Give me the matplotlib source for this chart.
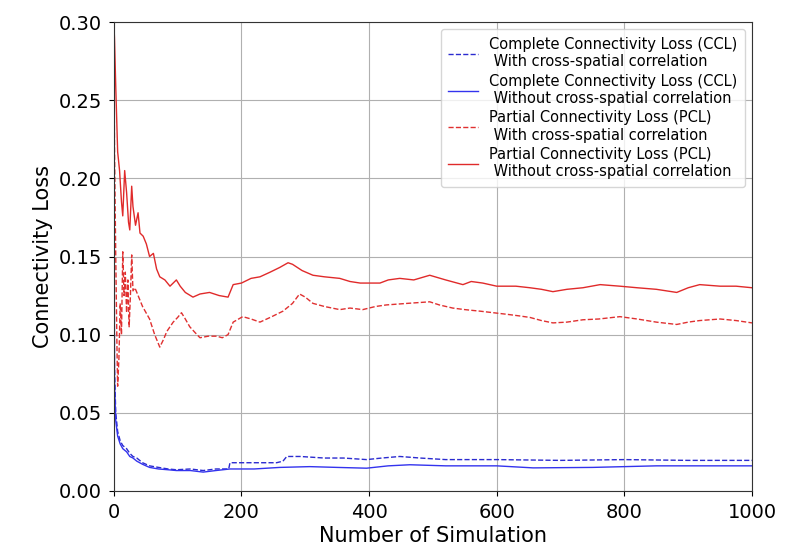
import numpy as np
import matplotlib.pyplot as plt

# values
pcl_wo_x = [0, 1, 3, 6, 9, 12, 14, 17, 20, 23, 25, 28, 30, 34, 38, 41, 46, 51, 56, 62, 67, 72, 80, 88, 93, 98, 104,
            112, 124, 135, 150, 165, 179, 187, 200, 215, 229, 245, 260, 273, 280, 295, 312, 330, 354, 370, 386, 400,
            417, 430, 448, 470, 495, 520, 547, 560, 578, 600, 630, 652, 670, 688, 710, 735, 762, 793, 820, 850, 882,
            900, 918, 950, 975, 1000]
pcl_wo_y = [0.300, 0.290, 0.259, 0.217, 0.205, 0.185, 0.176, 0.205, 0.191, 0.172, 0.167, 0.195, 0.182, 0.170, 0.178,
            0.165, 0.163, 0.158, 0.150, 0.152, 0.142, 0.137, 0.135, 0.131, 0.133, 0.135, 0.131, 0.127, 0.124, 0.126,
            0.127, 0.125, 0.124, 0.132, 0.133, 0.136, 0.137, 0.140, 0.143, 0.146, 0.145, 0.141, 0.138, 0.137, 0.136,
            0.134, 0.133, 0.133, 0.133, 0.135, 0.136, 0.135, 0.138, 0.135, 0.132, 0.134, 0.133, 0.131, 0.131, 0.130,
            0.129, 0.1275, 0.129, 0.130, 0.132, 0.131, 0.130, 0.129, 0.127, 0.130, 0.132, 0.131, 0.131, 0.130]

pcl_w_x = [0, 1, 3, 5, 6, 8, 10, 12, 14, 16, 18, 20, 22, 24, 26, 28, 30, 33, 36, 45, 56, 64, 72, 78, 83, 93, 100, 106,
           112, 119, 128, 135, 148, 161, 170, 179, 187, 202, 215, 229, 245, 265, 280, 291, 300, 312, 330, 354, 370,
           390, 410, 427, 460, 495, 510, 531, 550, 574, 595, 616, 635, 652, 670, 688, 710, 735, 760, 793, 820, 850,
           882, 900, 918, 950, 975, 1000]
pcl_w_y = [0.300, 0.220, 0.150, 0.090, 0.067, 0.085, 0.120, 0.100, 0.153, 0.125, 0.140, 0.114, 0.135, 0.105, 0.125,
           0.151, 0.128, 0.130, 0.127, 0.118, 0.110, 0.100, 0.092, 0.097, 0.102, 0.108, 0.111, 0.114, 0.110, 0.105,
           0.101, 0.098, 0.099, 0.099, 0.098, 0.100, 0.108, 0.1115, 0.110, 0.108, 0.111, 0.115, 0.120, 0.126, 0.124,
           0.120, 0.118, 0.116, 0.117, 0.116, 0.118, 0.119, 0.120, 0.121, 0.119, 0.117, 0.116, 0.115, 0.114, 0.113,
           0.112, 0.111, 0.109, 0.1075, 0.108, 0.1095, 0.110, 0.1115, 0.110, 0.108, 0.1065, 0.108, 0.109, 0.110,
           0.109, 0.1075]

ccl_w_x = [0, 1, 3, 6, 10, 14, 20, 25, 30, 36, 45, 56, 70, 85, 98, 120, 140, 160, 180, 182, 220, 255, 265, 271,
           292, 330, 360, 396, 420, 448, 480, 520, 553, 600, 700, 800, 900, 1000]
ccl_w_y = [0.280, 0.080, 0.050, 0.038, 0.032, 0.029, 0.027, 0.024, 0.022, 0.021, 0.018, 0.016, 0.015, 0.014, 0.0135,
           0.014, 0.013, 0.014, 0.014, 0.018, 0.018, 0.018, 0.019, 0.022, 0.022, 0.021, 0.021, 0.020, 0.021, 0.022,
           0.021, 0.020, 0.020, 0.020, 0.0195, 0.020, 0.0195, 0.0195]

ccl_wo_x = [0, 1, 3, 6, 10, 14, 20, 25, 30, 36, 45, 56, 70, 85, 98, 120, 140, 160, 182, 220, 260, 307, 350, 396,
            430, 464, 520, 600, 657, 750, 850, 1000]
ccl_wo_y = [0.250, 0.070, 0.045, 0.035, 0.030, 0.027, 0.025, 0.022, 0.021, 0.019, 0.017, 0.015, 0.014, 0.0135, 0.013,
            0.013, 0.012, 0.013, 0.014, 0.014, 0.015, 0.0155, 0.015, 0.0145, 0.016, 0.0167, 0.016, 0.016, 0.0147,
            0.015, 0.016, 0.016]

labels = ['Complete Connectivity Loss (CCL)\n With cross-spatial correlation',
          'Complete Connectivity Loss (CCL)\n Without cross-spatial correlation',
          'Partial Connectivity Loss (PCL)\n With cross-spatial correlation',
          'Partial Connectivity Loss (PCL)\n Without cross-spatial correlation']

fig = plt.figure(figsize=(7.85, 5.54), dpi=100)
ax = fig.add_axes([0.145, 0.114, 0.813, 0.846])

ax.plot(ccl_w_x, ccl_w_y, '--', color='#2b2bd0', lw=1.0, label=labels[0])
ax.plot(ccl_wo_x, ccl_wo_y, '-', color='#3333ee', lw=1.0, label=labels[1])
ax.plot(pcl_w_x, pcl_w_y, '--', color='#e03030', lw=1.0, label=labels[2])
ax.plot(pcl_wo_x, pcl_wo_y, '-', color='#e02a2a', lw=1.0, label=labels[3])

ax.set_xlim(0, 1000)
ax.set_ylim(0, 0.30)
ax.set_yticks(np.arange(0, 0.31, 0.05))
ax.set_yticklabels(['%.2f' % v for v in np.arange(0, 0.31, 0.05)])
ax.grid(True, color='#b0b0b0', lw=0.8)
for s in ax.spines.values():
    s.set_color('#333333')
ax.tick_params(labelsize=14, pad=5)
ax.set_xlabel('Number of Simulation', fontsize=15, labelpad=3)
ax.set_ylabel('Connectivity Loss', fontsize=15)
ax.legend(loc='upper right', fontsize=10.5, handlelength=2.0, borderpad=0.5, labelspacing=0.3)

plt.savefig('out.png', dpi=100)
